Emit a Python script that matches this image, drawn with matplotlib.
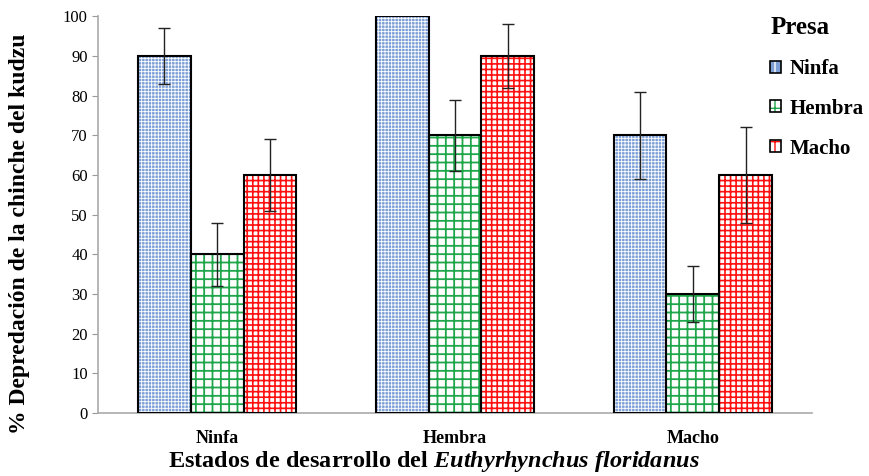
import numpy as np
import matplotlib
matplotlib.use("Agg")
from matplotlib import pyplot as plt
from matplotlib.patches import Patch
from matplotlib.legend_handler import HandlerTuple

plt.rcParams["font.family"] = "Liberation Serif"
plt.rcParams["mathtext.fontset"] = "custom"
plt.rcParams["mathtext.it"] = "Liberation Serif:bold:italic"
plt.rcParams["mathtext.rm"] = "Liberation Serif:bold"

# DATA ##########################################
stages = ["Ninfa", "Hembra", "Macho"]
prey = ["Ninfa", "Hembra", "Macho"]
ninfa_vals = [90, 100, 70]
hembra_vals = [40, 70, 30]
macho_vals = [60, 90, 60]
ninfa_err = [7, 0, 11]
hembra_err = [8, 9, 7]
macho_err = [9, 8, 12]

# STYLES ########################################
styles = [
    dict(face="#7d9fd6", hcolor="white", hatch="+++++", lw=0.6),
    dict(face="white", hcolor="#1fa64a", hatch="++", lw=1.3),
    dict(face="white", hcolor="#ff1010", hatch="+++", lw=1.2),
]

fig = plt.figure(figsize=(8.69, 4.76), dpi=100)
ax = fig.add_axes([0.113, 0.132, 0.821, 0.834])

x = np.arange(len(stages))
w = 0.222
series = [(ninfa_vals, ninfa_err), (hembra_vals, hembra_err), (macho_vals, macho_err)]
handles = []
for i, ((vals, errs), st) in enumerate(zip(series, styles)):
    pos = x + (i - 1) * w
    bars = ax.bar(pos, vals, w, color=st["face"], edgecolor=st["hcolor"], hatch=st["hatch"], linewidth=0, zorder=2)
    fill = Patch(facecolor=st["face"], edgecolor=st["hcolor"], hatch=st["hatch"][:1], linewidth=0)
    for p in list(bars) + [fill]:
        if hasattr(p, "set_hatch_linewidth"):
            p.set_hatch_linewidth(st["lw"])
    ax.bar(pos, vals, w, fill=False, edgecolor="black", linewidth=1.5, zorder=3)
    e = [v if v > 0 else np.nan for v in errs]
    ax.errorbar(pos, vals, yerr=e, fmt="none", ecolor="#222222", elinewidth=1, capsize=4, capthick=1, zorder=4)
    handles.append((fill, Patch(fill=False, edgecolor="black", linewidth=1.2)))

ax.set_xlim(-0.5, 2.5)
ax.set_ylim(0, 100)
ax.set_yticks(range(0, 101, 10))
ax.set_xticks(x)
ax.set_xticklabels(stages, fontweight="bold", fontsize=13)
ax.tick_params(axis="y", labelsize=12, length=4, color="#999999")
ax.tick_params(axis="x", length=0, pad=12)
for s in ["top", "right"]:
    ax.spines[s].set_visible(False)
for s in ["left", "bottom"]:
    ax.spines[s].set_color("#aaaaaa")
    ax.spines[s].set_linewidth(1.2)

ax.set_ylabel("% Depredación de la chinche del kudzu", fontweight="bold", fontsize=17)
ax.yaxis.set_label_coords(-0.095, 0.453)
ax.set_xlabel("Estados de desarrollo del $Euthyrhynchus\\ floridanus$", fontweight="bold", fontsize=17.5)
ax.xaxis.set_label_coords(0.47, -0.09)

leg = ax.legend(handles, prey, title="Presa", loc="upper left", bbox_to_anchor=(0.942, 1.0),
                frameon=False, handlelength=0.5, handleheight=0.5, handletextpad=0.45,
                labelspacing=0.95, borderpad=0, borderaxespad=0,
                handler_map={tuple: HandlerTuple(ndivide=1, pad=0)},
                prop=dict(weight="bold", size=15))
leg.get_title().set_fontweight("bold")
leg.get_title().set_fontsize(18)
leg._legend_box.align = "left"

plt.savefig("out.png", dpi=100)
